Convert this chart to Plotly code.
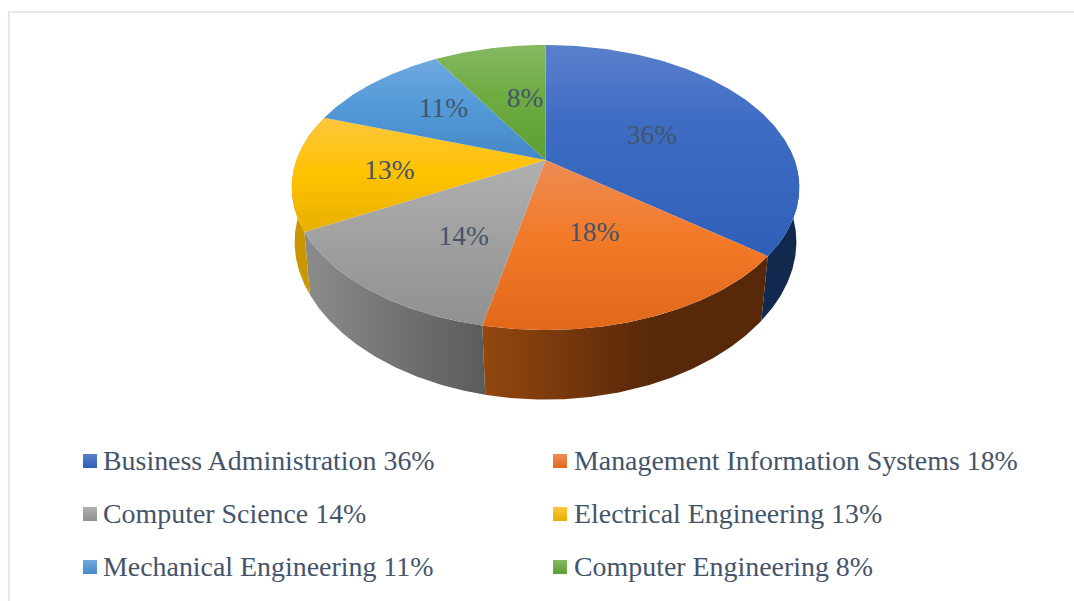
import numpy as np
import plotly.graph_objects as go

categories = ["Business Administration", "Management Information Systems", "Computer Science",
              "Electrical Engineering", "Mechanical Engineering", "Computer Engineering"]
printed_percent = [36, 18, 14, 13, 11, 8]
slice_shares = [35.6, 17.7, 13.8, 13.2, 11.1, 8.6]
top_light = ["#5a80cb", "#ee8c55", "#b0b0b0", "#fdc63c", "#6fa9e0", "#86b862"]
top_base = ["#3f6dc4", "#f27a28", "#a3a3a3", "#fec200", "#549ad8", "#6dac42"]
top_dark = ["#2f5fb8", "#e2681a", "#909090", "#e8b000", "#4487c8", "#5d9f33"]
base_stop = [0.35, 0.45, 0.4, 0.5, 0.45, 0.45]
side_left = ["#12294f", "#94470f", "#8c8c8c", "#c99800", None, None]
side_right = ["#12294f", "#572809", "#5b5b5b", "#c99800", None, None]

TEXT = "#44546a"
FONT = "Liberation Serif, Times New Roman, serif"
CX, CY, A, B, K = 545.5, 160.0, 137.2, 249.0, 0.193
# nudges for slice labels from their computed spot, in pixels
NUDGE = [(-1, 6), (2, 3), (-1, 19), (-31, 6), (-11, -9), (10, 1)]


def rim(theta, r=1.0):
    X, Y = r * np.sin(theta), r * np.cos(theta)
    d = 1 + K * Y
    return CX + B * X / d, CY - A * Y / d


def lower(x, y):
    return CX + (0.995 - 0.00025 * (y - CY)) * (x - CX), y + 58 + 0.068 * (y - CY)


edges = np.cumsum([0.0] + slice_shares) / sum(slice_shares) * 2 * np.pi
fig = go.Figure()

# walls first
for i in range(6):
    if side_left[i] is None:
        continue
    a0, a1 = max(edges[i], np.radians(85)), min(edges[i + 1], np.radians(285))
    t = np.linspace(a0, a1, 100)
    xt, yt = rim(t)
    xb, yb = lower(xt, yt)
    fig.add_trace(go.Scatter(
        x=np.r_[xt, xb[::-1]], y=np.r_[yt, yb[::-1]], mode="lines", fill="toself",
        line=dict(width=0), hoverinfo="skip", showlegend=False,
        fillgradient=dict(type="horizontal",
                          colorscale=[[0, side_left[i]], [0.6, side_right[i]], [1, side_right[i]]]
                          if i == 1 else [[0, side_left[i]], [1, side_right[i]]]),
    ))

# top face: each slice shaded over its own height
for i in range(6):
    t = np.linspace(edges[i], edges[i + 1], 120)
    xt, yt = rim(t)
    ys = np.r_[CY, yt, CY]
    fig.add_trace(go.Scatter(
        x=np.r_[CX, xt, CX], y=ys, mode="lines", fill="toself",
        line=dict(width=0), hoverinfo="skip", showlegend=False,
        fillgradient=dict(type="vertical", start=float(ys.min()), stop=float(ys.max()),
                          colorscale=[[0, top_light[i]], [base_stop[i], top_base[i]], [1, top_dark[i]]]),
    ))

# slice labels
mids = (edges[:-1] + edges[1:]) / 2
lx, ly = rim(mids, 0.5)
fig.add_trace(go.Scatter(
    x=[a + n[0] for a, n in zip(lx, NUDGE)], y=[b + n[1] for b, n in zip(ly, NUDGE)],
    mode="text", text=[f"{p}%" for p in printed_percent], textposition="middle center",
    textfont=dict(family=FONT, size=27.5, color=TEXT), hoverinfo="skip", showlegend=False,
))

# legend
leg_x = [90, 560, 90, 560, 90, 560]
leg_tx = [103, 574, 103, 574, 103, 574]
leg_y = [461, 461, 514, 514, 567, 567]
for i in range(6):
    fig.add_trace(go.Scatter(
        x=[leg_x[i]], y=[leg_y[i]], mode="markers", hoverinfo="skip", showlegend=False,
        marker=dict(symbol="square", size=14, color=top_light[i], line=dict(width=0),
                    gradient=dict(type="vertical", color=top_dark[i])),
    ))
    fig.add_trace(go.Scatter(
        x=[leg_tx[i]], y=[leg_y[i] + 2], mode="text", hoverinfo="skip", showlegend=False,
        text=[f"{categories[i]} {printed_percent[i]}%"], textposition="middle right",
        textfont=dict(family=FONT, size=27.9, color=TEXT),
    ))

fig.update_layout(
    width=1074, height=601, margin=dict(l=0, r=0, t=0, b=0),
    paper_bgcolor="white", plot_bgcolor="white",
    xaxis=dict(range=[0, 1074], visible=False, fixedrange=True),
    yaxis=dict(range=[601, 0], visible=False, fixedrange=True),
    shapes=[dict(type="path", path="M 9 601 L 9 12 L 1074 12", xref="x", yref="y",
                 line=dict(color="#e3e7ee", width=2))],
)
fig.write_html("out.html", config={"displayModeBar": False},
               post_script="document.body.style.margin='0';document.documentElement.style.overflow='hidden';")
